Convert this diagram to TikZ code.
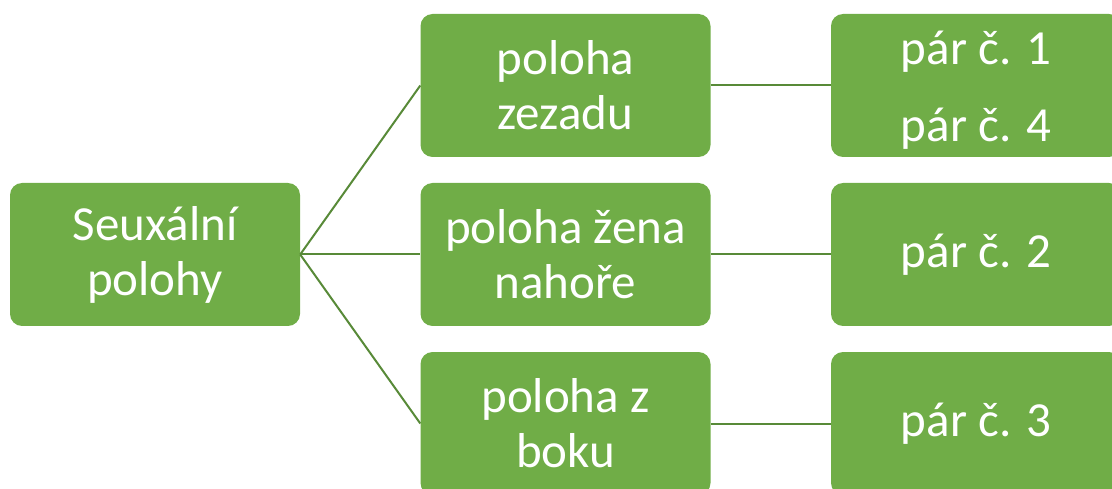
\documentclass[tikz,border=0pt]{standalone}
\usepackage{fontspec}
\setmainfont{Carlito}
\definecolor{boxgreen}{RGB}{112,173,71}
\definecolor{linegreen}{RGB}{88,138,56}
\begin{document}
\begin{tikzpicture}[x=1pt,y=-1pt,
  gbox/.style={rectangle, rounded corners=12pt, fill=boxgreen, draw=none,
    minimum width=290pt, minimum height=143pt, text=white, align=center,
    inner sep=0pt, font=\fontsize{49}{55}\selectfont},
  conn/.style={draw=linegreen, line width=2pt}]
\useasboundingbox (0,0) rectangle (1112,489);
\clip (0,0) rectangle (1112,489);
\node[gbox] (root) at (155,254.5) {Seuxální\\polohy};
\node[gbox] (m1) at (565.5,85.5) {poloha\\zezadu};
\node[gbox] (m2) at (565.5,254.5) {poloha žena\\nahoře};
\node[gbox] (m3) at (565.5,423.5) {poloha z\\boku};
\node[gbox] (r1) at (976,85.5) {\rule{0pt}{42pt}pár č. 1\\[22pt]pár č. 4};
\node[gbox] (r2) at (976,254.5) {pár č. 2};
\node[gbox] (r3) at (976,423.5) {pár č. 3};
\draw[conn] (root.east) -- (m1.west);
\draw[conn] (root.east) -- (m2.west);
\draw[conn] (root.east) -- (m3.west);
\draw[conn] (m1.east) -- (r1.west);
\draw[conn] (m2.east) -- (r2.west);
\draw[conn] (m3.east) -- (r3.west);
\end{tikzpicture}
\end{document}
